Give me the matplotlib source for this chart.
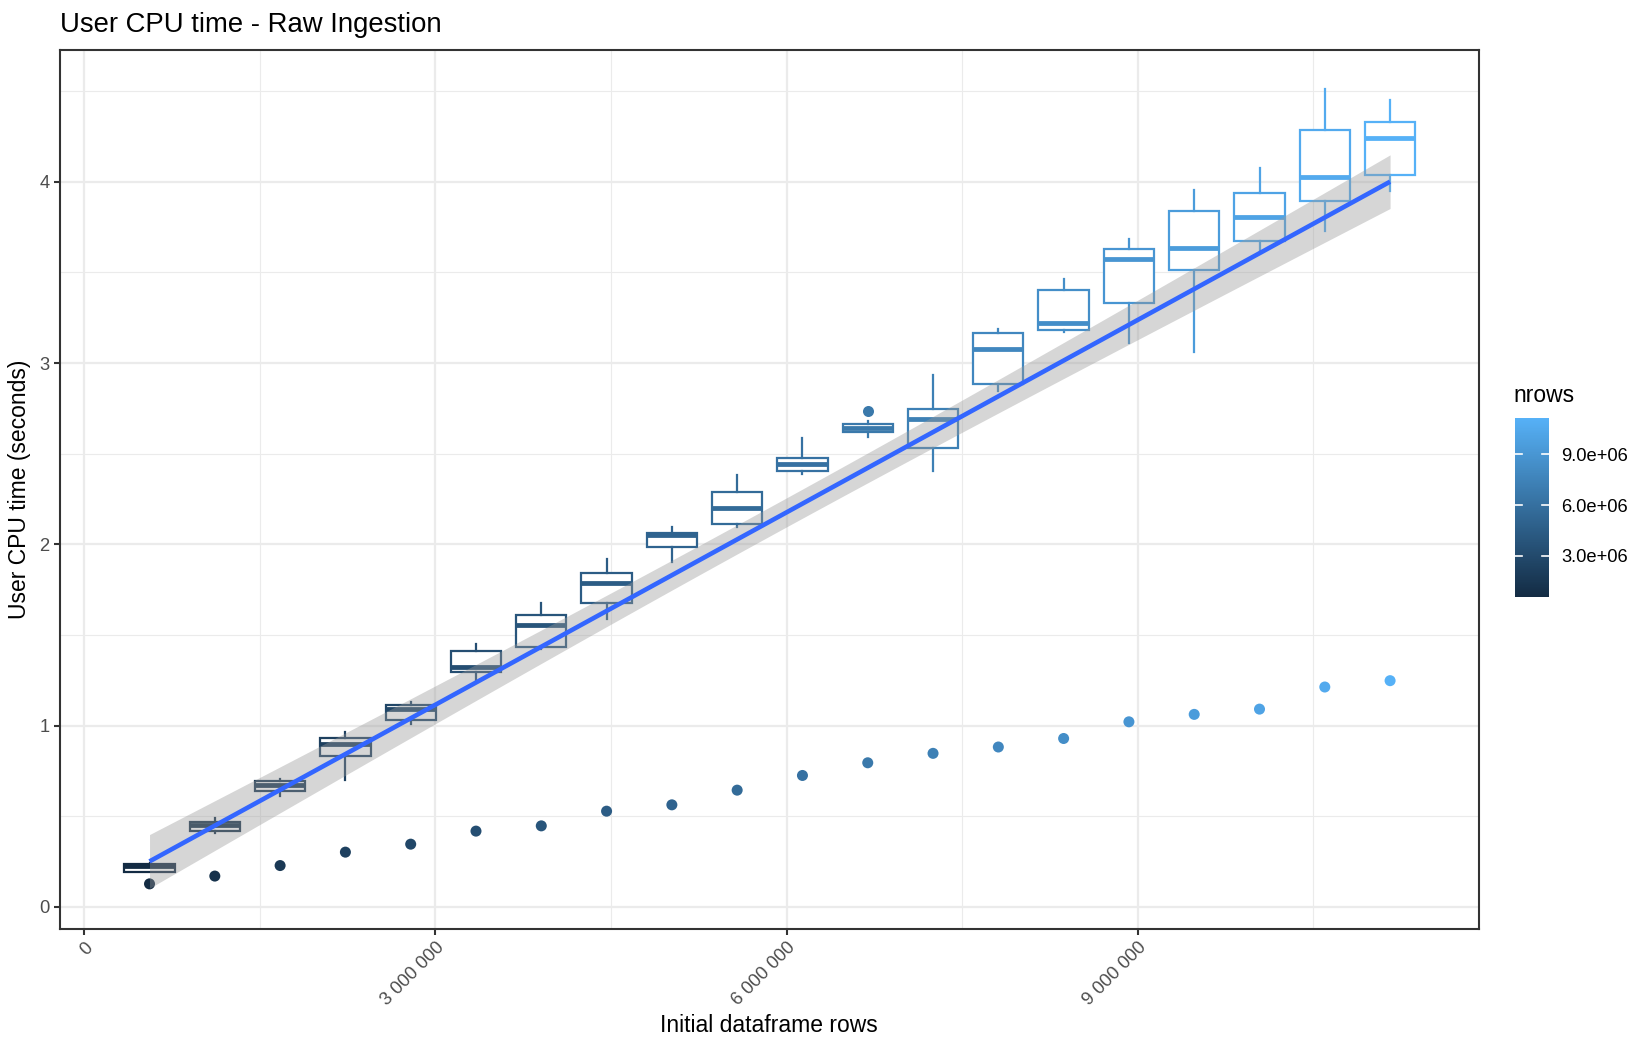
import numpy as np
import matplotlib
matplotlib.use("Agg")
import matplotlib.pyplot as plt
from matplotlib.colors import LinearSegmentedColormap, Normalize
from matplotlib.cm import ScalarMappable
from matplotlib.ticker import FuncFormatter, MultipleLocator, FixedLocator

plt.rcParams['font.family'] = ['Liberation Sans', 'DejaVu Sans']

# ---------------- data ----------------
nrows = [557834, 1115668, 1673502, 2231336, 2789170, 3347004, 3904838,
         4462672, 5020506, 5578340, 6136174, 6694008, 7251842, 7809676,
         8367510, 8925344, 9483178, 10041012, 10598846, 11156680]

whislo = [0.192, 0.407, 0.609, 0.701, 1.008, 1.247, 1.420, 1.587, 1.902, 2.093,
          2.387, 2.595, 2.407, 2.848, 3.170, 3.113, 3.060, 3.619, 3.731, 3.948]
q1 = [0.194, 0.418, 0.642, 0.833, 1.032, 1.295, 1.436, 1.676, 1.988, 2.111,
      2.402, 2.619, 2.531, 2.884, 3.183, 3.334, 3.514, 3.675, 3.893, 4.040]
med = [0.228, 0.453, 0.673, 0.898, 1.091, 1.321, 1.556, 1.789, 2.049, 2.203,
       2.442, 2.641, 2.690, 3.077, 3.222, 3.575, 3.637, 3.804, 4.028, 4.244]
q3 = [0.239, 0.466, 0.692, 0.931, 1.116, 1.412, 1.611, 1.842, 2.065, 2.291,
      2.479, 2.665, 2.746, 3.165, 3.401, 3.628, 3.839, 3.938, 4.284, 4.328]
whishi = [0.241, 0.490, 0.707, 0.967, 1.130, 1.450, 1.676, 1.918, 2.098, 2.380,
          2.586, 2.683, 2.935, 3.187, 3.463, 3.683, 3.955, 4.074, 4.510, 4.449]
outliers = [[], [], [], [], [], [], [], [], [], [], [], [2.736], [], [], [], [], [], [], [], []]

single_run = [0.127, 0.170, 0.228, 0.302, 0.346, 0.418, 0.447, 0.528, 0.563, 0.644,
              0.725, 0.795, 0.847, 0.882, 0.929, 1.021, 1.062, 1.091, 1.213, 1.248]

# linear smooth (geom_smooth method = lm) parameters
smooth_intercept = 0.0536          # seconds
smooth_slope = 0.3538e-6           # seconds per row
ci_half_center = 0.080             # half-width of 95% band at mean x
ci_half_edge = 0.148               # half-width at the ends of the x range

colorbar_ticks = [3.0e6, 6.0e6, 9.0e6]
colorbar_labels = ["3.0e+06", "6.0e+06", "9.0e+06"]
x_ticks = [0, 3000000, 6000000, 9000000]
y_ticks = [0, 1, 2, 3, 4]

# ---------------- styling ----------------
cmap = LinearSegmentedColormap.from_list("gg", ["#132B43", "#56B1F7"])
norm = Normalize(vmin=min(nrows), vmax=max(nrows))
box_width = 0.43e6

fig = plt.figure(figsize=(11, 7), dpi=150)
ax = fig.add_axes([60 / 1650, 1 - 929 / 1050, 1418.5 / 1650, 879.5 / 1050])

for i, x in enumerate(nrows):
    c = cmap(norm(x))
    st = dict(med=med[i], q1=q1[i], q3=q3[i], whislo=whislo[i], whishi=whishi[i],
              fliers=outliers[i])
    ax.bxp([st], positions=[x], widths=[box_width], patch_artist=True,
           showcaps=False, manage_ticks=False,
           boxprops=dict(facecolor='white', edgecolor=c, linewidth=1.07),
           medianprops=dict(color=c, linewidth=2.3, solid_capstyle='butt'),
           whiskerprops=dict(color=c, linewidth=1.07),
           flierprops=dict(marker='o', markerfacecolor=c, markeredgecolor=c,
                           markeredgewidth=0, markersize=5.3, linestyle='none'),
           zorder=2)

ax.scatter(nrows, single_run, c=[cmap(norm(v)) for v in nrows], s=28,
           linewidths=0, zorder=3)

xs = np.linspace(min(nrows), max(nrows), 200)
fit = smooth_intercept + smooth_slope * xs
xc = 0.5 * (min(nrows) + max(nrows))
d = 0.5 * (max(nrows) - min(nrows))
k = (ci_half_edge ** 2 - ci_half_center ** 2) / d ** 2
hw = np.sqrt(ci_half_center ** 2 + k * (xs - xc) ** 2)
ax.fill_between(xs, fit - hw, fit + hw, color='#999999', alpha=0.4,
                linewidth=0, zorder=4)
ax.plot(xs, fit, color='#3366FF', linewidth=2.2, zorder=5, solid_capstyle='butt')

# axes
ax.set_xlim(-0.207e6, 11.912e6)
ax.set_ylim(-0.122, 4.730)
ax.xaxis.set_major_locator(FixedLocator(x_ticks))
ax.xaxis.set_minor_locator(MultipleLocator(1.5e6))
ax.yaxis.set_major_locator(FixedLocator(y_ticks))
ax.yaxis.set_minor_locator(MultipleLocator(0.5))
ax.xaxis.set_major_formatter(FuncFormatter(lambda v, p: f"{int(round(v)):,}".replace(",", " ")))
ax.yaxis.set_major_formatter(FuncFormatter(lambda v, p: f"{int(round(v))}"))

ax.grid(which='major', color='#EBEBEB', linewidth=1.07, zorder=0)
ax.grid(which='minor', color='#EBEBEB', linewidth=0.53, zorder=0)
ax.set_axisbelow(True)
for s in ax.spines.values():
    s.set_color('#333333')
    s.set_linewidth(1.0)

ax.tick_params(which='major', length=2.75, width=1.0, color='#333333',
               labelsize=8.8, labelcolor='#4D4D4D', pad=2.2)
ax.tick_params(which='minor', length=0)
for lab in ax.get_xticklabels():
    lab.set_rotation(45)
    lab.set_ha('right')
    lab.set_va('top')
    lab.set_rotation_mode('anchor')

ax.set_xlabel("Initial dataframe rows", fontsize=11, color='black')
ax.xaxis.set_label_coords(0.5, -0.0966)
ax.xaxis.label.set_va('top')
ax.set_ylabel("User CPU time (seconds)", fontsize=11, color='black')
ax.yaxis.set_label_coords(-0.0289, 0.5)
ax.yaxis.label.set_va('center')

ax.set_title("User CPU time - Raw Ingestion", loc='left', fontsize=13.2,
             color='black', pad=8.4)

# colour bar legend
cax = fig.add_axes([1515 / 1650, 1 - 597 / 1050, 34 / 1650, 179 / 1050])
sm = ScalarMappable(norm=norm, cmap=cmap)
cb = fig.colorbar(sm, cax=cax)
cb.outline.set_visible(False)
cb.set_ticks(colorbar_ticks)
cb.set_ticklabels(colorbar_labels)
cax.tick_params(length=0, labelsize=8.8, labelcolor='black', pad=6)
for t in colorbar_ticks:
    cax.plot([0, 0.2], [t, t], transform=cax.get_yaxis_transform(), color='white',
             linewidth=0.8)
    cax.plot([0.8, 1.0], [t, t], transform=cax.get_yaxis_transform(), color='white',
             linewidth=0.8)
fig.text(1513 / 1650, 1 - 395 / 1050, "nrows", fontsize=11, color='black',
         ha='left', va='center')

fig.savefig("out.png", dpi=150, facecolor='white')
